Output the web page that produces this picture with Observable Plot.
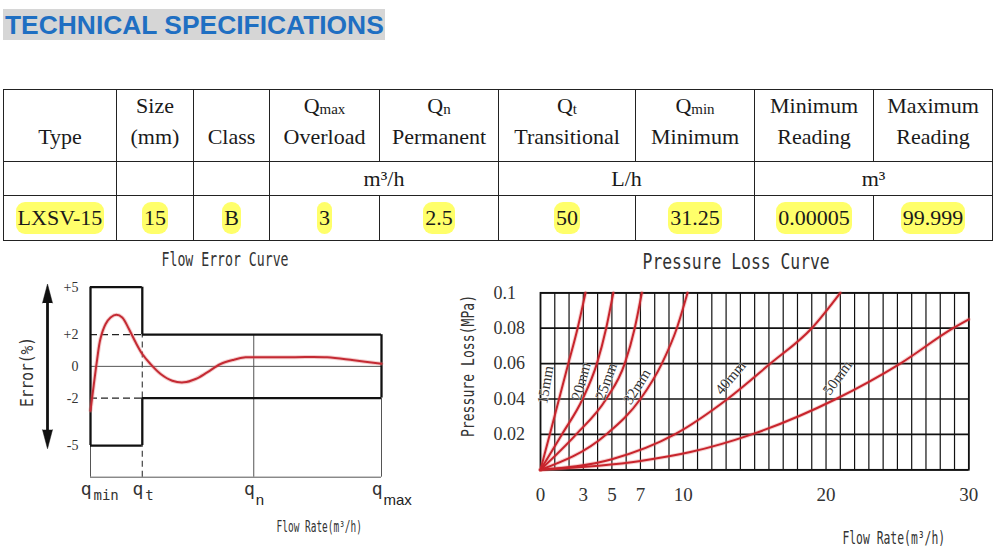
<!DOCTYPE html>
<html>
<head>
<meta charset="utf-8">
<script src="https://cdn.jsdelivr.net/npm/d3@7"></script>
<script src="https://cdn.jsdelivr.net/npm/@observablehq/plot@0.6"></script>
<style>
  body { margin: 0; background: #fff; }
  #page { position: relative; width: 1000px; height: 560px; overflow: hidden; background: #fff; }
  #title { position: absolute; left: 3px; top: 9px; width: 382px; height: 31px; background: #d6d6d6;
    color: #1f6fc2; font: bold 26.4px "Liberation Sans", Arial, sans-serif; line-height: 32px;
    white-space: nowrap; padding-left: 2px; box-sizing: border-box; }
  table.spec { position: absolute; left: 3px; top: 89px; border-collapse: collapse; table-layout: fixed;
    font-family: "Liberation Serif", "Times New Roman", serif; font-size: 22px; color: #1a1a1a; }
  table.spec td { border: 1.5px solid #222; text-align: center; padding: 0; }
  table.spec tr.head td { vertical-align: bottom; line-height: 31px; padding-bottom: 9px; }
  table.spec tr.unit td { vertical-align: middle; line-height: 22px; }
  table.spec tr.val td { vertical-align: middle; line-height: 22px; }
  table.spec sub { font-size: 15px; vertical-align: -1px; line-height: 0; }
  .hl { background: #ffff6a; border-radius: 9px; padding: 3px 2px 4px 2px; }
  .lbl { position: absolute; left: 0; top: 0; white-space: nowrap; transform-origin: 50% 50%;
    font-family: "DejaVu Sans Mono", monospace; color: #333; }
  svg.chart { position: absolute; }
</style>
</head>
<body>
<div id="page">
  <div id="title">TECHNICAL SPECIFICATIONS</div>
</div>
<script>
// ---------------- data ----------------
// specification table
const colTitles = ["Type", "Size", "Class", "Q", "Q", "Q", "Q", "Minimum", "Maximum"];
const colSubs = ["", "", "", "max", "n", "t", "min", "", ""];
const colSecond = ["", "(mm)", "", "Overload", "Permanent", "Transitional", "Minimum", "Reading", "Reading"];
const unitLabels = ["", "", "", "m³/h", "L/h", "m³"];
const unitSpans = [1, 1, 1, 2, 2, 2];
const specValues = ["LXSV-15", "15", "B", "3", "2.5", "50", "31.25", "0.00005", "99.999"];

// flow error curve (schematic flow axis)
const flowMarks = ["min", "t", "n", "max"];
const flowPos = [0, 17.8, 56.1, 100];
const errorTicks = [5, 2, 0, -2, -5];
const errorTickLabels = ["+5", "+2", "0", "-2", "-5"];
const lowZoneLimit = 5;
const highZoneLimit = 2;
const errorFloor = -7;
const errorFlow = [0, 1.1, 2.3, 3.4, 5.2, 6.9, 8.9, 10.9, 13.2, 15.5, 17.8, 20.6, 24.1, 28.1, 32.1, 36.1, 40.1, 44.7, 49.3, 53.3, 56.4, 70, 81.3, 90.5, 100];
const errorValue = [-2.8, -1.2, 0.46, 1.73, 2.67, 3.09, 3.26, 3.09, 2.36, 1.52, 0.78, 0.15, -0.48, -0.91, -1.01, -0.8, -0.38, 0.15, 0.42, 0.57, 0.58, 0.58, 0.57, 0.38, 0.17];

// pressure loss curves
const pipeSizes = ["15mm", "20mm", "25mm", "32mm", "40mm", "50mm"];
const pipeFlows = [
  [0, 0.65, 1.3, 1.95, 2.6, 3.15],
  [0, 1.5, 2.95, 3.95, 4.6, 5.1],
  [0, 2.5, 4.6, 5.9, 6.6, 7.1],
  [0, 4.6, 7.0, 8.5, 9.55, 10.3],
  [0, 5, 9.4, 13.1, 16.1, 19.0, 21.0],
  [0, 7, 10.5, 14.8, 20.7, 25.2, 28.9, 30]
];
const pipeLosses = [
  [0, 0.02, 0.04, 0.06, 0.08, 0.1],
  [0, 0.02, 0.04, 0.06, 0.08, 0.1],
  [0, 0.02, 0.04, 0.06, 0.08, 0.1],
  [0, 0.02, 0.04, 0.06, 0.08, 0.1],
  [0, 0.006, 0.02, 0.04, 0.06, 0.08, 0.1],
  [0, 0.005, 0.01, 0.02, 0.04, 0.06, 0.08, 0.085]
];
const labelFlow = [0.35, 2.85, 4.6, 6.75, 13.3, 20.8];
const labelLoss = [0.048, 0.05, 0.05, 0.047, 0.052, 0.052];
const labelAngle = [-80, -75, -70, -58, -50, -54];
const flowTicks = [0, 3, 5, 7, 10, 20, 30];
const lossTicks = [0.02, 0.04, 0.06, 0.08, 0.1];
const lossTickLabels = ["0.02", "0.04", "0.06", "0.08", "0.1"];

// ---------------- table ----------------
const page = document.getElementById("page");
const serif = "Liberation Serif";
const colWidths = [113, 77, 76, 110, 119, 137, 119, 119, 119];
const table = document.createElement("table");
table.className = "spec";
const cg = document.createElement("colgroup");
colWidths.forEach(w => { const c = document.createElement("col"); c.style.width = w + "px"; cg.appendChild(c); });
table.appendChild(cg);
table.style.width = d3.sum(colWidths) + "px";

const r1 = table.insertRow(); r1.className = "head"; r1.style.height = "69px";
colTitles.forEach((t, i) => {
  const td = r1.insertCell();
  let html = t;
  if (colSubs[i]) html += "<sub>" + colSubs[i] + "</sub>";
  if (colSecond[i]) html += "<br>" + colSecond[i];
  td.innerHTML = html;
});
const r2 = table.insertRow(); r2.className = "unit"; r2.style.height = "34px";
unitLabels.forEach((u, i) => { const td = r2.insertCell(); td.colSpan = unitSpans[i]; td.textContent = u; });
const r3 = table.insertRow(); r3.className = "val"; r3.style.height = "45px";
specValues.forEach(v => { const td = r3.insertCell(); const s = document.createElement("span"); s.className = "hl"; s.textContent = v; td.appendChild(s); });
page.appendChild(table);

// ---------------- condensed labels ----------------
function addLabel(text, cx, cy, size, targetW, rot = 0) {
  const el = document.createElement("div");
  el.className = "lbl";
  el.style.fontSize = size + "px";
  el.textContent = text;
  page.appendChild(el);
  const w = el.offsetWidth, h = el.offsetHeight;
  const s = targetW / w;
  el.style.transform = `translate(${cx - w / 2}px, ${cy - h / 2}px) rotate(${rot}deg) scaleX(${s})`;
}

// ---------------- flow error chart ----------------
const [qmin, qt, qn, qmax] = flowPos;
const L = lowZoneLimit, H = highZoneLimit, F = errorFloor;
const hSolid = [{x1: qmin, x2: qt, y: L}, {x1: qmin, x2: qt, y: -L}, {x1: qt, x2: qmax, y: H}, {x1: qt, x2: qmax, y: -H}];
const vSolid = [{x: qmin, y1: -L, y2: L}, {x: qt, y1: H, y2: L}, {x: qt, y1: -L, y2: -H}, {x: qmax, y1: -H, y2: H}];
const hDash = [{x1: qmin, x2: qt, y: H}, {x1: qmin, x2: qt, y: -H}];
const vDash = [{x: qt, y1: -H, y2: H}, {x: qt, y1: F, y2: -L}];
const vThin = [{x: qmin, y1: F, y2: -L}, {x: qn, y1: F, y2: H}, {x: qmax, y1: F, y2: -H}];
const hThin = [{x1: qmin, x2: qmax, y: 0}, {x1: qmin, x2: qmax, y: F}];
const errorData = errorFlow.map((x, i) => ({x, y: errorValue[i]}));
const qData = flowMarks.map((m, i) => ({x: flowPos[i], sub: m}));
const arrowTips = [{y: 4.0, r: 0}, {y: -4.0, r: 180}];

const err = Plot.plot({
  width: 420, height: 275,
  marginLeft: 90, marginRight: 39, marginTop: 16.7, marginBottom: 68.3,
  x: {domain: [0, 100], axis: null},
  y: {domain: [F, L], axis: null},
  style: {background: "transparent", overflow: "visible", fontFamily: serif},
  marks: [
    Plot.ruleY(hThin, {x1: "x1", x2: "x2", y: "y", stroke: "#555", strokeWidth: 1}),
    Plot.ruleX(vThin, {x: "x", y1: "y1", y2: "y2", stroke: "#555", strokeWidth: 1}),
    Plot.ruleY(hDash, {x1: "x1", x2: "x2", y: "y", stroke: "#222", strokeWidth: 1.3, strokeDasharray: "7,4"}),
    Plot.ruleX(vDash, {x: "x", y1: "y1", y2: "y2", stroke: "#444", strokeWidth: 1.2, strokeDasharray: "6,4"}),
    Plot.ruleY(hSolid, {x1: "x1", x2: "x2", y: "y", stroke: "#111", strokeWidth: 2.3}),
    Plot.ruleX(vSolid, {x: "x", y1: "y1", y2: "y2", stroke: "#111", strokeWidth: 2.3}),
    Plot.line(errorData, {x: "x", y: "y", stroke: "#e07070", strokeWidth: 4, strokeOpacity: 0.35, curve: "catmull-rom"}),
    Plot.line(errorData, {x: "x", y: "y", stroke: "#c42a33", strokeWidth: 2, curve: "catmull-rom"}),
    Plot.text(errorTicks, {y: d => d, text: (d, i) => errorTickLabels[i], frameAnchor: "left", dx: -12, textAnchor: "end", fontFamily: serif, fontSize: 14, fill: "#333"}),
    Plot.text(qData, {x: "x", text: () => "q", frameAnchor: "bottom", dy: 18, dx: 1, textAnchor: "end", fontFamily: "DejaVu Sans Mono", fontSize: 18, fill: "#333"}),
    Plot.text(qData.filter(d => d.sub === "min" || d.sub === "t"), {x: "x", text: "sub", frameAnchor: "bottom", dy: 23, dx: 3, textAnchor: "start", fontFamily: "DejaVu Sans Mono", fontSize: 14, fill: "#333"}),
    Plot.text(qData.filter(d => d.sub === "n" || d.sub === "max"), {x: "x", text: "sub", frameAnchor: "bottom", dy: 28, dx: 2, textAnchor: "start", fontFamily: "Liberation Sans", fontSize: 15, fill: "#222"}),
    Plot.ruleX([qmin], {y1: -4.2, y2: 4.2, dx: -43, stroke: "#111", strokeWidth: 2.8}),
    Plot.vector(arrowTips, {x: () => qmin, y: "y", rotate: "r", length: 19, r: 5, shape: "spike", anchor: "start", dx: -43, fill: "#111", stroke: "#111", strokeWidth: 0.5})
  ]
});
err.classList.add("chart");
err.style.left = "0px"; err.style.top = "270px";
page.appendChild(err);

// ---------------- pressure loss chart ----------------
const pressureData = pipeSizes.flatMap((s, i) => pipeFlows[i].map((q, j) => ({size: s, q, p: pipeLosses[i][j]})));
const labelData = pipeSizes.map((s, i) => ({s, q: labelFlow[i], p: labelLoss[i], a: labelAngle[i]}));

const pres = Plot.plot({
  width: 560, height: 285,
  marginLeft: 100, marginRight: 31.7, marginTop: 22.3, marginBottom: 85.7,
  x: {domain: [0, 30]},
  y: {domain: [0, 0.1], axis: null},
  style: {background: "transparent", overflow: "visible", fontFamily: serif, color: "#333"},
  marks: [
    Plot.gridX({ticks: 30, stroke: "#111", strokeOpacity: 1, strokeWidth: 1.2}),
    Plot.gridY({ticks: 5, stroke: "#111", strokeOpacity: 1, strokeWidth: 1.7}),
    Plot.frame({stroke: "#111", strokeWidth: 1.7}),
    Plot.line(pressureData, {x: "q", y: "p", z: "size", stroke: "#e06868", strokeWidth: 4, strokeOpacity: 0.3, curve: "monotone-x"}),
    Plot.line(pressureData, {x: "q", y: "p", z: "size", stroke: "#c8242c", strokeWidth: 2, curve: "monotone-x"}),
    Plot.text(labelData, {x: "q", y: "p", text: "s", rotate: "a", fontFamily: serif, fontSize: 15, fill: "#333", stroke: "white", strokeWidth: 0.5, paintOrder: "stroke"}),
    Plot.axisX(flowTicks, {tickSize: 0, tickPadding: 18, fontFamily: serif, fontSize: 19, fill: "#333", label: null}),
    Plot.text(lossTicks, {y: d => d, text: (d, i) => lossTickLabels[i], frameAnchor: "left", dx: -47, textAnchor: "start", fontFamily: serif, fontSize: 18, fill: "#333"})
  ]
});
pres.classList.add("chart");
pres.style.left = "440px"; pres.style.top = "270px";
page.appendChild(pres);

// ---------------- titles ----------------
addLabel("Flow Error Curve", 225, 259, 19, 127);
addLabel("Error(%)", 27, 372, 17, 70, -90);
addLabel("Flow Rate(m³/h)", 319, 527, 15, 85);
addLabel("Pressure Loss Curve", 736, 262, 21, 187);
addLabel("Pressure Loss(MPa)", 468, 366, 17, 142, -90);
addLabel("Flow Rate(m³/h)", 894, 538, 17, 103);
</script>
</body>
</html>
